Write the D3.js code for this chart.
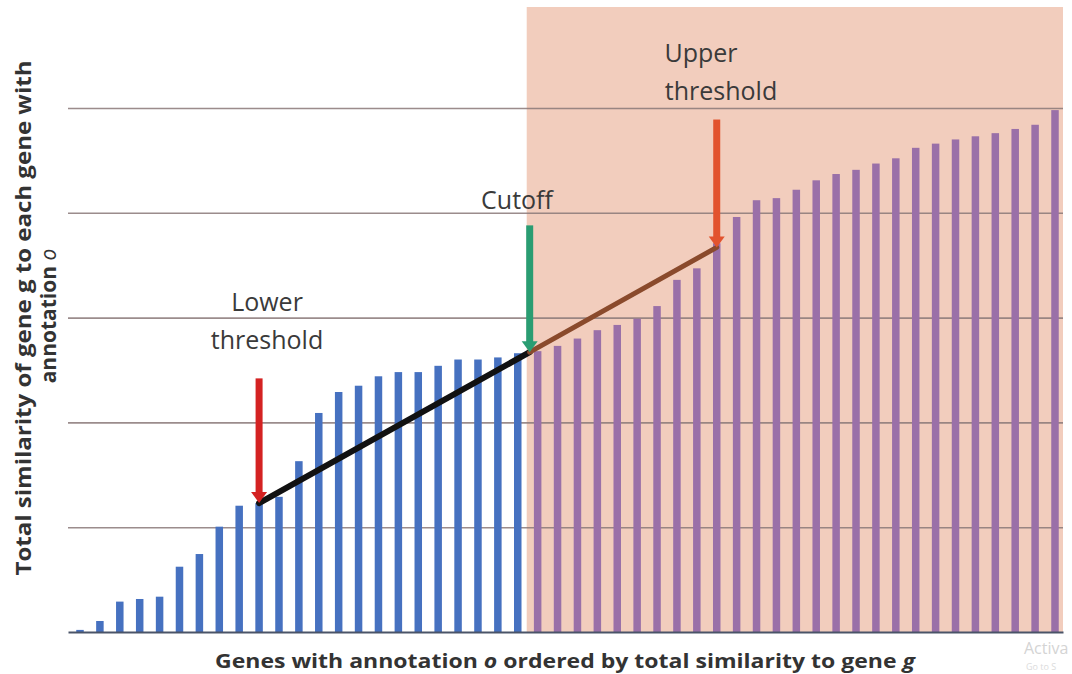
<!DOCTYPE html>
<html>
<head>
<meta charset="utf-8">
<script src="https://cdn.jsdelivr.net/npm/d3@7"></script>
<style>
  body { margin: 0; background: #fff; }
  svg { display: block; }
</style>
</head>
<body>
<div id="chart"></div>
<script>
// Values (gridline units, baseline = 0)
const lowerValues = [0.02, 0.105, 0.29, 0.315, 0.337, 0.623, 0.744, 1.005, 1.205, 1.23, 1.29,
    1.63, 2.09, 2.29, 2.35, 2.44, 2.48, 2.48, 2.54, 2.60, 2.60, 2.62, 2.66];
const upperValues = [2.68, 2.73, 2.80, 2.88, 2.93, 2.99, 3.11, 3.36, 3.47, 3.71, 3.96, 4.12, 4.14,
    4.22, 4.31, 4.37, 4.41, 4.47, 4.52, 4.62, 4.66, 4.70, 4.73, 4.76, 4.80, 4.84, 4.98];
const yTicks = [0, 1, 2, 3, 4, 5];

// Markers: position on the gene axis (bar index), arrow start and tip value
const markerNames = ["Lower threshold", "Cutoff", "Upper threshold"];
const markerIndex = [9, 22.6, 32];
const markerFrom = [2.42, 3.88, 4.89];
const markerTo = [1.23, 2.67, 3.67];
const shadeStart = 22.45;

const W = 1072, H = 674;
const allValues = lowerValues.concat(upperValues);

const svg = d3.select("#chart")
    .append("svg")
    .attr("width", W)
    .attr("height", H);

const x = d3.scaleLinear()
    .domain([0, allValues.length - 1])
    .range([80, 1055]);

const y = d3.scaleLinear()
    .domain([0, 5])
    .range([632, 108]);

const left = 68, right = 1063;

// vùng tô màu bên phải cutoff
svg.append("rect")
    .attr("x", x(shadeStart))
    .attr("y", 7)
    .attr("width", right - x(shadeStart))
    .attr("height", y(0) - 7)
    .attr("fill", "#f2cdbd");

// gridlines
svg.append("g")
    .attr("transform", `translate(${left},0)`)
    .call(d3.axisLeft(y).tickValues(yTicks.filter(d => d > 0)).tickSize(-(right - left)).tickFormat(""))
    .call(g => g.select(".domain").remove())
    .selectAll("line")
    .attr("stroke", "#8a7878")
    .attr("stroke-opacity", 0.85)
    .attr("stroke-width", 1.6);

// bars
const barW = 7.5;
svg.append("g")
    .selectAll("rect")
    .data(allValues)
    .enter()
    .append("rect")
    .attr("x", (d, i) => x(i) - barW / 2)
    .attr("y", d => y(d))
    .attr("width", barW)
    .attr("height", d => y(0) - y(d))
    .attr("fill", (d, i) => i < lowerValues.length ? "#4671c0" : "#9a70a8");

// baseline
svg.append("g")
    .attr("transform", `translate(0,${y(0)})`)
    .call(d3.axisBottom(d3.scaleLinear().range([left, right])).ticks(0).tickSize(0))
    .select(".domain")
    .attr("stroke", "#4a5468")
    .attr("stroke-width", 2);

// đường nối giữa các ngưỡng
svg.append("line")
    .attr("x1", x(markerIndex[0])).attr("y1", y(markerTo[0]))
    .attr("x2", x(markerIndex[1])).attr("y2", y(markerTo[1]))
    .attr("stroke", "#111")
    .attr("stroke-width", 6)
    .attr("stroke-linecap", "round");

svg.append("line")
    .attr("x1", x(markerIndex[1])).attr("y1", y(markerTo[1]))
    .attr("x2", x(markerIndex[2])).attr("y2", y(markerTo[2]))
    .attr("stroke", "#8a4a2c")
    .attr("stroke-width", 5)
    .attr("stroke-linecap", "round");

// arrows
const arrowColors = ["#d42222", "#2a9d72", "#e2532e"];
function drawArrow(i) {
    const cx = x(markerIndex[i]);
    const y0 = y(markerFrom[i]), y1 = y(markerTo[i]);
    svg.append("rect")
        .attr("x", cx - 3.5)
        .attr("y", y0)
        .attr("width", 7)
        .attr("height", y1 - y0 - 9)
        .attr("fill", arrowColors[i]);
    svg.append("path")
        .attr("d", `M${cx - 8},${y1 - 11} L${cx + 8},${y1 - 11} L${cx},${y1} Z`)
        .attr("fill", arrowColors[i]);
}
markerNames.forEach((d, i) => drawArrow(i));

// annotation labels
const noteFont = "'Open Sans', 'DejaVu Sans', sans-serif";
function note(lines, cx, baseY) {
    lines.forEach((t, k) => {
        svg.append("text")
            .attr("x", cx)
            .attr("y", baseY + k * 38)
            .attr("text-anchor", "middle")
            .style("font-family", noteFont)
            .style("font-size", "25px")
            .style("fill", "#3a3a3a")
            .text(t);
    });
}
note(["Lower", "threshold"], 267, 311);
note(["Cutoff"], 517, 209);
note(["Upper"], 701, 62);
note(["threshold"], 721, 100);

// X axis label
const xl = svg.append("text")
    .attr("x", 215)
    .attr("y", 668)
    .attr("textLength", 700)
    .attr("lengthAdjust", "spacingAndGlyphs")
    .style("font-family", noteFont)
    .style("font-size", "20px")
    .style("font-weight", "bold")
    .style("fill", "#333");
xl.append("tspan").text("Genes with annotation ");
xl.append("tspan").style("font-style", "italic").text("o");
xl.append("tspan").text(" ordered by  total similarity  to gene ");
xl.append("tspan").style("font-style", "italic").text("g");

// Y axis label (2 dòng)
svg.append("text")
    .attr("transform", "translate(31,318) rotate(-90)")
    .attr("text-anchor", "middle")
    .attr("textLength", 515)
    .attr("lengthAdjust", "spacingAndGlyphs")
    .style("font-family", noteFont)
    .style("font-size", "21px")
    .style("font-weight", "bold")
    .style("fill", "#333")
    .text("Total similarity of gene g to each gene with");

const yl2 = svg.append("text")
    .attr("transform", "translate(56,316) rotate(-90)")
    .attr("text-anchor", "middle")
    .style("font-family", noteFont)
    .style("font-size", "21px")
    .style("font-weight", "bold")
    .style("fill", "#333");
yl2.append("tspan").text("annotation ");
yl2.append("tspan").style("font-style", "italic").style("font-weight", "normal").text("o");

// faint watermark at the corner
svg.append("text")
    .attr("x", 1024)
    .attr("y", 654)
    .style("font-family", noteFont)
    .style("font-size", "16px")
    .style("fill", "#d4d4d4")
    .text("Activa");
svg.append("text")
    .attr("x", 1026)
    .attr("y", 670)
    .style("font-family", noteFont)
    .style("font-size", "9px")
    .style("fill", "#dcdcdc")
    .text("Go to S");
</script>
</body>
</html>
